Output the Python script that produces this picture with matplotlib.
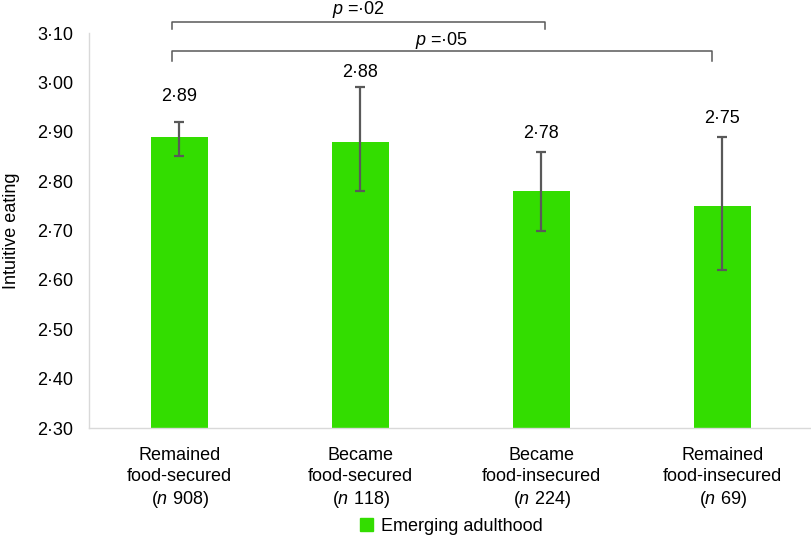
import numpy as np
import matplotlib
matplotlib.use("Agg")
import matplotlib.pyplot as plt
from matplotlib.patches import Patch

plt.rcParams['font.family'] = ['Liberation Sans', 'DejaVu Sans']
plt.rcParams['mathtext.fontset'] = 'custom'
plt.rcParams['mathtext.rm'] = 'Liberation Sans'
plt.rcParams['mathtext.it'] = 'Liberation Sans:italic'

# data
groups = ["Remained\nfood-secured\n($\\mathit{n}$ 908)",
          "Became\nfood-secured\n($\\mathit{n}$ 118)",
          "Became\nfood-insecured\n($\\mathit{n}$ 224)",
          "Remained\nfood-insecured\n($\\mathit{n}$ 69)"]
means = [2.89, 2.88, 2.78, 2.75]
ci_low = [2.85, 2.78, 2.70, 2.62]
ci_high = [2.92, 2.99, 2.86, 2.89]
yticks = [2.30, 2.40, 2.50, 2.60, 2.70, 2.80, 2.90, 3.00, 3.10]
comparisons = [(0, 2, "$\\mathit{p}$ =·02"), (0, 3, "$\\mathit{p}$ =·05")]
series_name = "Emerging adulthood"

green = '#33DD00'
dark = '#595959'
fs = 13

fig = plt.figure(figsize=(8.12, 5.39), dpi=100)
ax = fig.add_axes([0.1096, 0.2059, 0.8916, 0.7328])

x = np.arange(len(means))
means_a = np.array(means)
err = [means_a - np.array(ci_low), np.array(ci_high) - means_a]
ax.bar(x, means, width=0.315, color=green, zorder=2)
ax.errorbar(x, means, yerr=err, fmt='none', ecolor=dark, elinewidth=1.6,
            capsize=3.5, capthick=1.6, zorder=3)

# value labels above error bars
label_off = [25, 15, 18, 18]
for i, m in enumerate(means):
    ax.annotate(f"{m:.2f}".replace('.', '·'), (x[i], ci_high[i]),
                xytext=(0, label_off[i]), textcoords='offset pixels',
                ha='center', va='center', fontsize=fs)

# significance brackets
br_y = [3.122, 3.064]
br_drop = [0.014, 0.021]
txt_y = [3.147, 3.084]
br_end = [x[2] + 0.02, x[3] - 0.06]
for k, (a, b, lab) in enumerate(comparisons):
    x0, x1 = x[a] - 0.04, br_end[k]
    ax.plot([x0, x0, x1, x1], [br_y[k] - br_drop[k], br_y[k], br_y[k], br_y[k] - br_drop[k]],
            color=dark, lw=1.1, clip_on=False, zorder=4)
    ax.text((x0 + x1) / 2, txt_y[k], lab, ha='center', va='center', fontsize=fs,
            clip_on=False)

ax.set_xlim(-0.5, 3.5)
ax.set_ylim(2.30, 3.10)
ax.set_yticks(yticks)
ax.set_yticklabels([f"{t:.2f}".replace('.', '·') for t in yticks], fontsize=fs)
ax.set_xticks(x)
ax.set_xticklabels(groups, fontsize=fs, linespacing=1.27)
ax.tick_params(axis='both', length=0)
ax.tick_params(axis='y', pad=11.5)
ax.tick_params(axis='x', pad=14)
ax.set_ylabel("Intuitive eating", fontsize=fs, labelpad=12)

for s in ['top', 'right']:
    ax.spines[s].set_visible(False)
for s in ['left', 'bottom']:
    ax.spines[s].set_color('#D9D9D9')
    ax.spines[s].set_linewidth(1.0)

fig.legend(handles=[Patch(color=green, label=series_name)], loc='center',
           bbox_to_anchor=(0.556, 0.024), frameon=False, fontsize=fs,
           handlelength=0.7, handleheight=0.7, handletextpad=0.45)

fig.savefig("out.png", dpi=100)
